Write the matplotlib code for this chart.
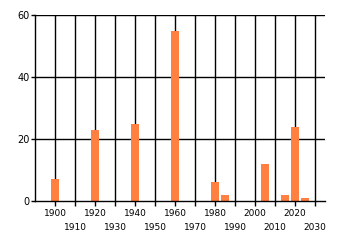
import matplotlib
matplotlib.use("Agg")
import matplotlib.pyplot as plt

years = [1900, 1920, 1940, 1960, 1980, 1985, 2005, 2015, 2020, 2025]
values = [7, 23, 25, 55, 6, 2, 12, 2, 24, 1]
decades = list(range(1900, 2031, 10))
y_ticks = [0, 20, 40, 60]

fig = plt.figure(figsize=(3.4, 2.45), dpi=100)
ax = fig.add_axes([35/340, 1-201/245, 290/340, 186/245])

ax.bar(years, values, width=4, color="#FF8040", zorder=3)

ax.set_xlim(1890, 2035)
ax.set_ylim(0, 60)

for d in decades:
    ax.axvline(d, color="black", lw=1, zorder=2)
for y in y_ticks[1:]:
    ax.axhline(y, color="black", lw=1, zorder=2)

ax.set_xticks(decades)
ax.set_xticklabels([str(d) for d in decades], fontsize=6.5, family="DejaVu Sans")
ax.set_yticks(y_ticks)
ax.set_yticklabels([str(v) for v in y_ticks], fontsize=7, family="DejaVu Sans")

for i, t in enumerate(ax.xaxis.get_major_ticks()):
    if i % 2 == 0:
        t.set_pad(2.5)
        t.tick1line.set_markersize(0)
    else:
        t.set_pad(12.5)
        t.tick1line.set_markersize(2.5)
ax.tick_params(axis="x", direction="out", width=1, colors="black")
ax.tick_params(axis="y", length=3, width=1, pad=1, colors="black")

for s in ["top", "right"]:
    ax.spines[s].set_visible(False)
ax.spines["left"].set_linewidth(1)
ax.spines["bottom"].set_linewidth(1)
ax.spines["left"].set_zorder(4)
ax.spines["bottom"].set_zorder(4)

fig.savefig("out.png", dpi=100)
